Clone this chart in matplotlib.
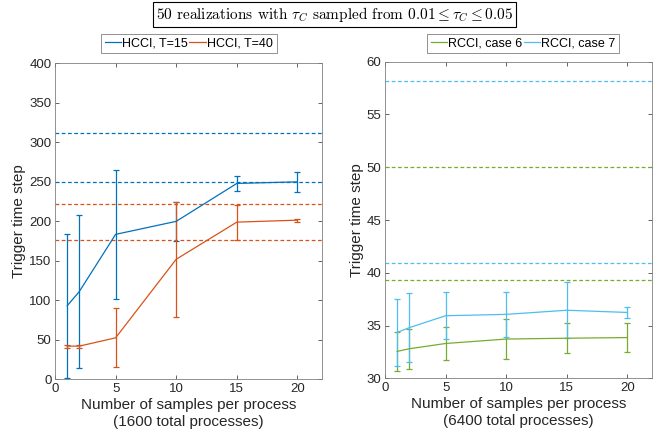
import matplotlib.pyplot as plt
from matplotlib.lines import Line2D
import numpy as np

plt.rcParams['font.family'] = ['Liberation Sans', 'DejaVu Sans']
plt.rcParams['mathtext.fontset'] = 'cm'

# samples per process
x = [1, 2, 5, 10, 15, 20]

# HCCI (1600 total processes)
hcci15_mean = [93, 111, 183.5, 200, 248, 250]
hcci15_err = [91, 97, 81.5, 25, 10, 13]
hcci40_mean = [42, 42, 52.5, 152, 199, 201.5]
hcci40_err = [2, 2, 37.5, 73, 22, 2]
hcci15_ref = [312, 249.3]
hcci40_ref = [222.3, 176]

# RCCI (6400 total processes)
rcci6_mean = [32.55, 32.8, 33.3, 33.72, 33.8, 33.86]
rcci6_err = [1.85, 1.9, 1.55, 1.9, 1.4, 1.4]
rcci7_mean = [34.35, 34.8, 35.93, 36.06, 36.45, 36.24]
rcci7_err = [3.2, 3.25, 2.25, 2.15, 2.65, 0.5]
rcci6_ref = [50.05, 39.3]
rcci7_ref = [58.2, 40.9]

blue = '#0072BD'
orange = '#D95319'
green = '#77AC30'
cyan = '#4DBEEE'

fig = plt.figure(figsize=(6.65, 4.37), dpi=100)
ax1 = fig.add_axes([0.0827, 0.132, 0.401, 0.723])
ax2 = fig.add_axes([0.579, 0.1343, 0.401, 0.7245])


def draw(ax, series, ylim, yticks, xlab, legend_x, legend_y):
    handles = []
    for mean, err, ref, color, label in series:
        for r in ref:
            ax.axhline(r, color=color, ls='--', lw=0.9, dashes=(3, 2))
        ax.errorbar(x, mean, yerr=err, color=color, lw=0.9, elinewidth=0.9,
                    capsize=2.3, capthick=0.9)
        handles.append(Line2D([], [], color=color, lw=0.9, label=label))
    ax.set_xlim(0, 22)
    ax.set_ylim(*ylim)
    ax.set_xticks([0, 5, 10, 15, 20])
    ax.set_yticks(yticks)
    ax.tick_params(direction='in', top=True, right=True, labelsize=9.5,
                   colors='#262626', length=3, width=0.5, pad=2.5)
    for s in ax.spines.values():
        s.set_color('#808080')
        s.set_linewidth(0.6)
    ax.set_xlabel(xlab, fontsize=11, color='#262626', labelpad=2,
                  linespacing=1.35)
    ax.set_ylabel('Trigger time step', fontsize=11, color='#262626',
                  labelpad=2)
    leg = ax.legend(handles=handles, loc='lower center', ncol=2,
                    bbox_to_anchor=(legend_x, legend_y), fontsize=9,
                    handlelength=1.3, handletextpad=0.1, columnspacing=0.1,
                    borderpad=0.3, fancybox=False, framealpha=1,
                    borderaxespad=0)
    leg.get_frame().set_edgecolor('#808080')
    leg.get_frame().set_linewidth(0.6)


draw(ax1,
     [(hcci15_mean, hcci15_err, hcci15_ref, blue, 'HCCI, T=15'),
      (hcci40_mean, hcci40_err, hcci40_ref, orange, 'HCCI, T=40')],
     (0, 400), np.arange(0, 401, 50),
     'Number of samples per process\n(1600 total processes)', 0.502, 1.032)

draw(ax2,
     [(rcci6_mean, rcci6_err, rcci6_ref, green, 'RCCI, case 6'),
      (rcci7_mean, rcci7_err, rcci7_ref, cyan, 'RCCI, case 7')],
     (30, 60), np.arange(30, 61, 5),
     'Number of samples per process\n(6400 total processes)', 0.517, 1.027)

fig.text(0.503, 0.967,
         r'50 realizations with $\tau_C$ sampled from $0.01 \leq \tau_C \leq 0.05$',
         ha='center', va='center', fontsize=11, family=['cmr10', 'DejaVu Serif'],
         math_fontfamily='cm',
         bbox=dict(boxstyle='square,pad=0.2', fc='white', ec='black', lw=0.8))

fig.savefig('out.png', dpi=100)
